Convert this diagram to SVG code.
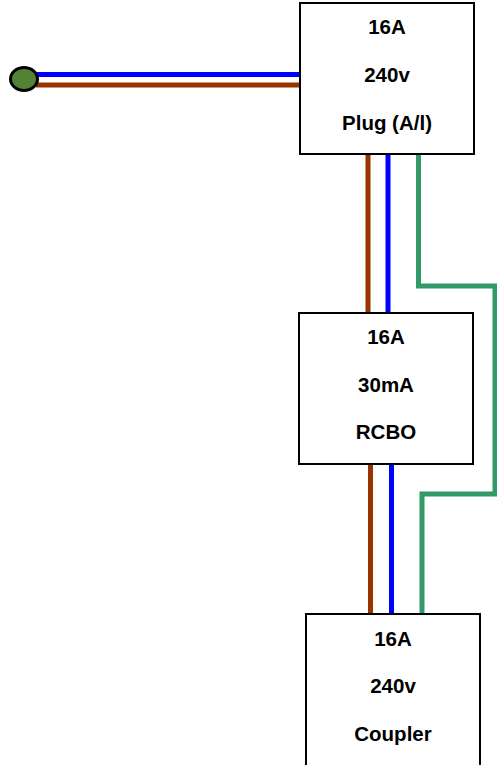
<svg xmlns="http://www.w3.org/2000/svg" width="497" height="765" viewBox="0 0 497 765">
<style>
.box{fill:#fff;stroke:#000;stroke-width:2}
.t{font-family:"Liberation Sans",Arial,sans-serif;font-weight:bold;font-size:20.5px;text-anchor:middle;fill:#000}
.w{fill:none;stroke-width:5}
.br{stroke:#993300}
.bl{stroke:#0000ff}
.gr{stroke:#339966}
</style>
<rect width="497" height="765" fill="#fff"/>
<g id="connectors">
<line class="w bl" x1="36" y1="74.5" x2="300" y2="74.5"/>
<line class="w br" x1="36" y1="85" x2="300" y2="85"/>
<line class="w br" x1="368" y1="154" x2="368" y2="313"/>
<line class="w bl" x1="388" y1="154" x2="388" y2="313"/>
<polyline class="w gr" points="418.5,154 418.5,286 495,286 495,494 422,494 422,614"/>
<line class="w br" x1="370.5" y1="464" x2="370.5" y2="614"/>
<line class="w bl" x1="391.5" y1="464" x2="391.5" y2="614"/>
</g>
<g id="source">
<ellipse cx="24" cy="79" rx="13.5" ry="11.5" fill="#548235" stroke="#000" stroke-width="3"/>
</g>
<g id="plug">
<rect class="box" x="300" y="3" width="174" height="151"/>
<text class="t" x="387" y="34">16A</text>
<text class="t" x="387" y="82">240v</text>
<text class="t" x="387" y="130">Plug (A/l)</text>
</g>
<g id="rcbo">
<rect class="box" x="299" y="313" width="174" height="151"/>
<text class="t" x="386" y="344">16A</text>
<text class="t" x="386" y="392">30mA</text>
<text class="t" x="386" y="439">RCBO</text>
</g>
<g id="coupler">
<rect class="box" x="306" y="614" width="174" height="152"/>
<text class="t" x="393" y="646">16A</text>
<text class="t" x="393" y="693">240v</text>
<text class="t" x="393" y="741">Coupler</text>
</g>
</svg>
